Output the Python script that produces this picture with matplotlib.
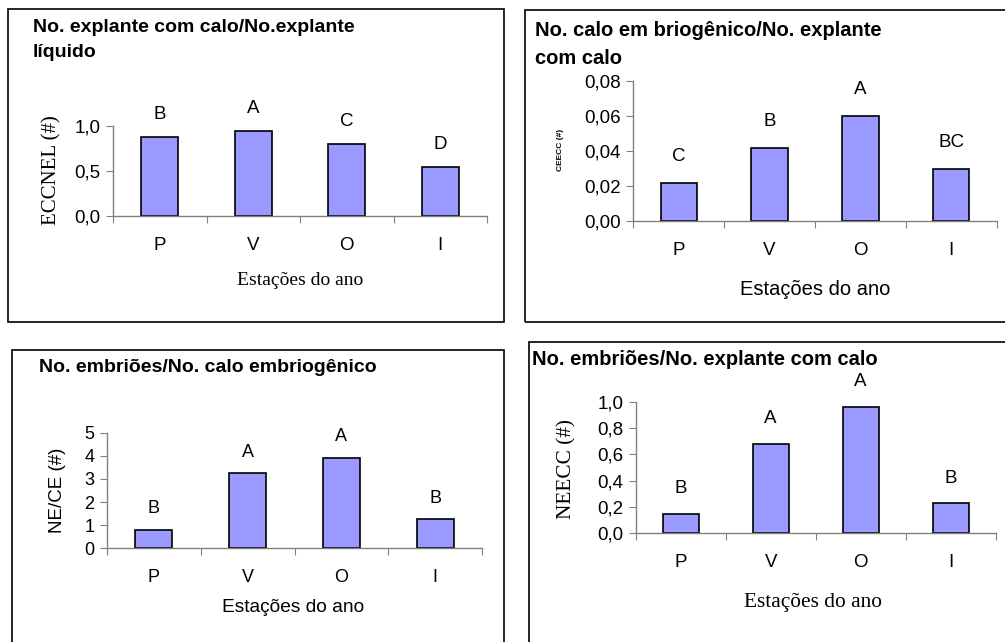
import matplotlib
matplotlib.use("Agg")
import matplotlib.pyplot as plt
from matplotlib.patches import Rectangle

W, H = 1005, 642

estacoes = ["P", "V", "O", "I"]

eccnel = [0.88, 0.95, 0.80, 0.55]
eccnel_letras = ["B", "A", "C", "D"]

ceecc = [0.022, 0.042, 0.060, 0.030]
ceecc_letras = ["C", "B", "A", "BC"]

ne_ce = [0.8, 3.24, 3.92, 1.25]
ne_ce_letras = ["B", "A", "A", "B"]

neecc = [0.15, 0.68, 0.96, 0.23]
neecc_letras = ["B", "A", "A", "B"]

SANS = "Liberation Sans"
SERIF = "Liberation Serif"
BAR = "#9999FF"
AX = "#808080"

fig = plt.figure(figsize=(W / 100, H / 100), dpi=100)


def fx(x):
    return x / W


def fy(y):
    return 1 - y / H


def painel(x0, x1, ytop, ybot, vals, letras, ymax, yticks, yfmt, off_px, tick_fs):
    ax = fig.add_axes([fx(x0), fy(ybot), fx(x1 - x0), (ybot - ytop) / H])
    pos = range(len(vals))
    bars = ax.bar(pos, vals, width=0.4, color=BAR, edgecolor="black", linewidth=1.2)
    for b, l in zip(bars, letras):
        ax.annotate(l, (b.get_x() + b.get_width() / 2, b.get_height()),
                    xytext=(0, off_px * 0.72), textcoords="offset points",
                    ha="center", va="center", fontsize=tick_fs, family=SANS)
    ax.set_xlim(-0.5, len(vals) - 0.5)
    ax.set_ylim(0, ymax)
    ax.set_yticks(yticks)
    ax.set_yticklabels([yfmt(v).replace(".", ",") for v in yticks], family=SANS, fontsize=tick_fs)
    ax.set_xticks([i - 0.5 for i in range(len(vals) + 1)])
    ax.set_xticklabels([])
    ax.set_xticks(list(pos), minor=True)
    ax.set_xticklabels(estacoes, minor=True, family=SANS, fontsize=tick_fs)
    ax.tick_params(axis="x", which="minor", length=0, pad=15)
    ax.tick_params(axis="x", which="major", direction="out", length=5, color=AX)
    ax.tick_params(axis="y", direction="out", length=5, color=AX, pad=4)
    for s in ["top", "right"]:
        ax.spines[s].set_visible(False)
    for s in ["left", "bottom"]:
        ax.spines[s].set_color(AX)
        ax.spines[s].set_linewidth(1.0)
    ax.patch.set_alpha(0)
    return ax


# molduras dos paineis
for (x0, y0, x1, y1) in [(8, 9, 504, 322), (525, 10, 1010, 322),
                         (12, 350, 504, 650), (529, 342, 1010, 650)]:
    fig.patches.append(Rectangle((fx(x0), fy(y1)), fx(x1 - x0), (y1 - y0) / H,
                                 transform=fig.transFigure, fill=False,
                                 edgecolor="black", linewidth=1.2))

# painel 1
painel(113, 487, 126, 216, eccnel, eccnel_letras, 1.0, [0, 0.5, 1.0],
       lambda v: f"{v:.1f}", 22, 13.5)
fig.text(fx(33), fy(19), "No. explante com calo/No.explante\nlíquido", family=SANS,
         fontweight="bold", fontsize=14, va="top", ha="left", linespacing=1.64)
fig.text(fx(52), fy(170), "ECCNEL (#)", family=SERIF, fontsize=15, rotation=90,
         ha="center", va="center")
fig.text(fx(300), fy(280), "Estações do ano", family=SERIF, fontsize=14,
         ha="center", va="center")

# painel 2
painel(633.3, 996.7, 81, 221, ceecc, ceecc_letras, 0.08, [0, 0.02, 0.04, 0.06, 0.08],
       lambda v: f"{v:.2f}", 26, 13.5)
fig.text(fx(535), fy(21), "No. calo em briogênico/No. explante\ncom calo", family=SANS,
         fontweight="bold", fontsize=14.5, va="top", ha="left", linespacing=1.57)
fig.text(fx(560), fy(150), "CEECC (#)", family=SANS, fontsize=6, fontweight="bold",
         rotation=90, ha="center", va="center")
fig.text(fx(815), fy(290), "Estações do ano", family=SANS, fontsize=14.5,
         ha="center", va="center")

# painel 3
painel(106.7, 482.3, 432.7, 548.3, ne_ce, ne_ce_letras, 5, [0, 1, 2, 3, 4, 5],
       lambda v: f"{v:d}", 21, 13)
fig.text(fx(39), fy(372), "No. embriões/No. calo embriogênico", family=SANS,
         fontweight="bold", fontsize=14, va="baseline", ha="left")
fig.text(fx(58), fy(490), "NE/CE (#)", family=SANS, fontsize=13.5, rotation=90,
         ha="center", va="center")
fig.text(fx(293), fy(607), "Estações do ano", family=SANS, fontsize=13.8,
         ha="center", va="center")

# painel 4
painel(635.7, 995.7, 401.7, 533.3, neecc, neecc_letras, 1.0, [0, 0.2, 0.4, 0.6, 0.8, 1.0],
       lambda v: f"{v:.1f}", 25, 13.5)
fig.text(fx(531.7), fy(365), "No. embriões/No. explante com calo", family=SANS,
         fontweight="bold", fontsize=14.5, va="baseline", ha="left")
fig.text(fx(567), fy(469), "NEECC (#)", family=SERIF, fontsize=15.3, rotation=90,
         ha="center", va="center")
fig.text(fx(813), fy(602), "Estações do ano", family=SERIF, fontsize=15.4,
         ha="center", va="center")

fig.savefig("out.png", dpi=100)
